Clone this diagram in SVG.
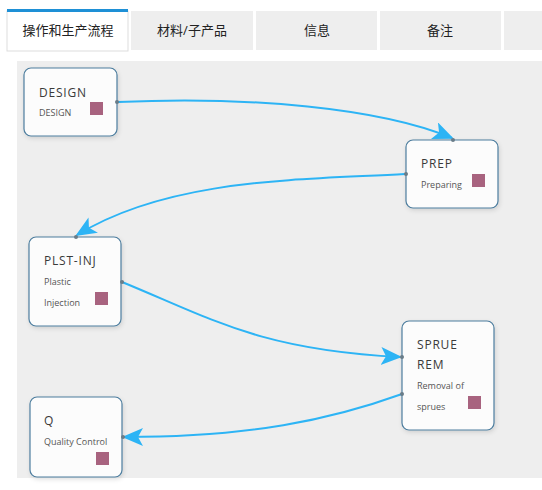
<svg xmlns="http://www.w3.org/2000/svg" width="542" height="490" viewBox="0 0 542 490">
<style>
.tab{fill:#eeeeee}
.tabt{font-family:"Open Sans","Noto Sans CJK SC",sans-serif;font-size:13px;fill:#222;text-anchor:middle}
.box{fill:#fcfcfc;stroke:#4d7d9e;stroke-width:1.2}
.t{font-family:"Open Sans","Noto Sans",sans-serif;font-size:12px;fill:#3a3a3a;letter-spacing:0.8px}
.s{font-family:"Open Sans","Noto Sans",sans-serif;font-size:9px;fill:#555}
.sq{fill:#a8637f}
.port{fill:#6a7c88}
.edge{fill:none;stroke:#2db4f5;stroke-width:2}
</style>
<defs>
<marker id="arr" markerUnits="userSpaceOnUse" markerWidth="24" markerHeight="20" refX="19" refY="9" orient="auto">
<path d="M0,0 L21,9 L0,18 L5,9 z" fill="#2db4f5"/>
</marker>
<filter id="sh" x="-10%" y="-10%" width="130%" height="130%">
<feDropShadow dx="1" dy="2" stdDeviation="2" flood-color="#000" flood-opacity="0.12"/>
</filter>
</defs>
<rect width="542" height="490" fill="#ffffff"/>
<g id="tabs">
<rect x="7" y="11" width="121" height="40" fill="#ffffff" stroke="#dddddd"/>
<rect x="7" y="9" width="121" height="3" fill="#1e90d6"/>
<rect class="tab" x="131" y="11" width="122" height="39"/>
<rect class="tab" x="256" y="11" width="121" height="39"/>
<rect class="tab" x="380" y="11" width="121" height="39"/>
<rect class="tab" x="504" y="11" width="38" height="39"/>
<text class="tabt" x="68" y="35">操作和生产流程</text>
<text class="tabt" x="192" y="35">材料/子产品</text>
<text class="tabt" x="317" y="35">信息</text>
<text class="tabt" x="440" y="35">备注</text>
</g>
<rect x="17" y="61" width="525" height="417" fill="#eeeeee"/>
<g id="connectors">
<path class="edge" d="M118,102 C250,96 380,108 452,138" marker-end="url(#arr)"/>
<path class="edge" d="M405,174 C300,180 170,178 77,235" marker-end="url(#arr)"/>
<path class="edge" d="M122,282 C210,318 260,350 400,357" marker-end="url(#arr)"/>
<path class="edge" d="M402,394 C330,420 250,437 124,437" marker-end="url(#arr)"/>
</g>
<g id="DESIGN">
<rect class="box" x="24" y="68" width="93" height="68" rx="7" filter="url(#sh)"/>
<text class="t" x="39" y="97">DESIGN</text>
<text class="s" x="39" y="116">DESIGN</text>
<rect class="sq" x="90" y="102" width="13" height="13"/>
<circle class="port" cx="117" cy="102" r="2"/>
</g>
<g id="PREP">
<rect class="box" x="406" y="140" width="92" height="68" rx="7" filter="url(#sh)"/>
<text class="t" x="421" y="168">PREP</text>
<text class="s" x="421" y="188">Preparing</text>
<rect class="sq" x="472" y="174" width="13" height="13"/>
<circle class="port" cx="453" cy="140" r="2"/>
<circle class="port" cx="406" cy="174" r="2"/>
</g>
<g id="PLST-INJ">
<rect class="box" x="29" y="237" width="92" height="89" rx="7" filter="url(#sh)"/>
<text class="t" x="44" y="265">PLST-INJ</text>
<text class="s" x="44" y="285">Plastic</text>
<text class="s" x="44" y="306">Injection</text>
<rect class="sq" x="95" y="292" width="13" height="13"/>
<circle class="port" cx="76" cy="237" r="2"/>
<circle class="port" cx="122" cy="282" r="2"/>
</g>
<g id="SPRUE-REM">
<rect class="box" x="402" y="321" width="92" height="109" rx="7" filter="url(#sh)"/>
<text class="t" x="417" y="349">SPRUE</text>
<text class="t" x="417" y="369">REM</text>
<text class="s" x="417" y="389">Removal of</text>
<text class="s" x="417" y="410">sprues</text>
<rect class="sq" x="468" y="396" width="13" height="13"/>
<circle class="port" cx="402" cy="357" r="2"/>
<circle class="port" cx="402" cy="394" r="2"/>
</g>
<g id="Q">
<rect class="box" x="30" y="397" width="92" height="80" rx="7" filter="url(#sh)"/>
<text class="t" x="44" y="425">Q</text>
<text class="s" x="44" y="445">Quality Control</text>
<rect class="sq" x="96" y="452" width="13" height="13"/>
<circle class="port" cx="123" cy="437" r="2"/>
</g>
</svg>
